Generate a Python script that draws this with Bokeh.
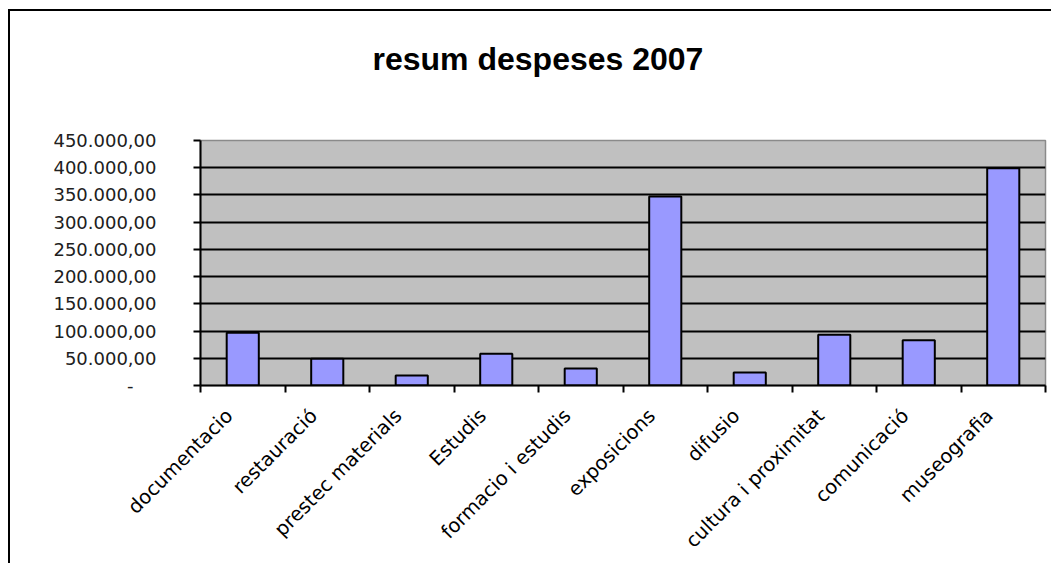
import math
from bokeh.plotting import figure
from bokeh.models import Range1d, FixedTicker, ColumnDataSource, Title
from bokeh.embed import file_html
from bokeh.resources import INLINE

categories = ["documentacio", "restauració", "prestec materials", "Estudis",
              "formacio i estudis", "exposicions", "difusio",
              "cultura i proximitat", "comunicació", "museografia"]
values = [97000, 49000, 18500, 58500, 31000, 347000, 24000, 93000, 83000, 399000]
y_ticks = [0, 50000, 100000, 150000, 200000, 250000, 300000, 350000, 400000, 450000]
y_tick_labels = ["-\u00a0\u00a0\u00a0\u00a0", "50.000,00", "100.000,00", "150.000,00", "200.000,00",
                 "250.000,00", "300.000,00", "350.000,00", "400.000,00", "450.000,00"]
title_text = "resum despeses 2007"

n = len(categories)
xs = [i + 0.5 for i in range(n)]
label_pos = [i + 0.34 for i in range(n)]
source = ColumnDataSource(dict(x=xs, top=values, cat=categories))

p = figure(width=1051, height=563, output_backend="svg", toolbar_location=None,
           x_range=Range1d(0, n), y_range=Range1d(0, 450000),
           min_border_left=200, min_border_right=6, min_border_top=140,
           min_border_bottom=177, background_fill_color="#C0C0C0",
           border_fill_color="white", border_fill_alpha=0)
p.styles = {
    "background": ("linear-gradient(#000,#000) 8px 9px / 2px 100% no-repeat, "
                   "linear-gradient(#000,#000) 8px 9px / 100% 2px no-repeat, #fff"),
}

# spacer between the frame and the title (closest to the frame)
p.add_layout(Title(text=" ", text_font_size="1px", standoff=61), "above")
p.add_layout(Title(text=title_text, align="left", offset=172, standoff=0,
                   text_font="Liberation Sans", text_font_style="bold",
                   text_font_size="32px", text_color="black"), "above")

p.vbar(x="x", top="top", width=0.38, source=source, fill_color="#9999FF",
       line_color="black", line_width=2)

p.outline_line_color = "#8a8a8a"
p.outline_line_width = 1.5

# y axis
yax = p.yaxis[0]
yax.ticker = FixedTicker(ticks=y_ticks, minor_ticks=[])
yax.major_label_overrides = {t: l for t, l in zip(y_ticks, y_tick_labels)}
yax.major_label_text_font = "DejaVu Sans"
yax.major_label_text_font_size = "18px"
yax.major_label_text_color = "#202020"
yax.major_label_standoff = 37
yax.axis_line_color = "black"
yax.axis_line_width = 2
yax.major_tick_out = 7
yax.major_tick_in = 0
yax.major_tick_line_width = 2
yax.major_tick_line_color = "black"

# x axis
xax = p.xaxis[0]
xax.ticker = FixedTicker(ticks=label_pos, minor_ticks=list(range(n + 1)))
xax.major_label_overrides = {x: c for x, c in zip(label_pos, categories)}
xax.major_label_orientation = math.pi / 4
xax.major_label_text_font = "DejaVu Sans"
xax.major_label_text_font_size = "19.5px"
xax.major_label_text_color = "black"
xax.major_label_standoff = 20
xax.axis_line_color = "black"
xax.axis_line_width = 2
xax.major_tick_out = 0
xax.major_tick_in = 0
xax.minor_tick_out = 7
xax.minor_tick_in = 0
xax.minor_tick_line_color = "black"
xax.minor_tick_line_width = 2

p.xgrid.grid_line_color = None
p.ygrid.ticker = FixedTicker(ticks=y_ticks[1:-1])
p.ygrid.grid_line_color = "black"
p.ygrid.grid_line_width = 2

open("out.html", "w").write(file_html(p, INLINE))
